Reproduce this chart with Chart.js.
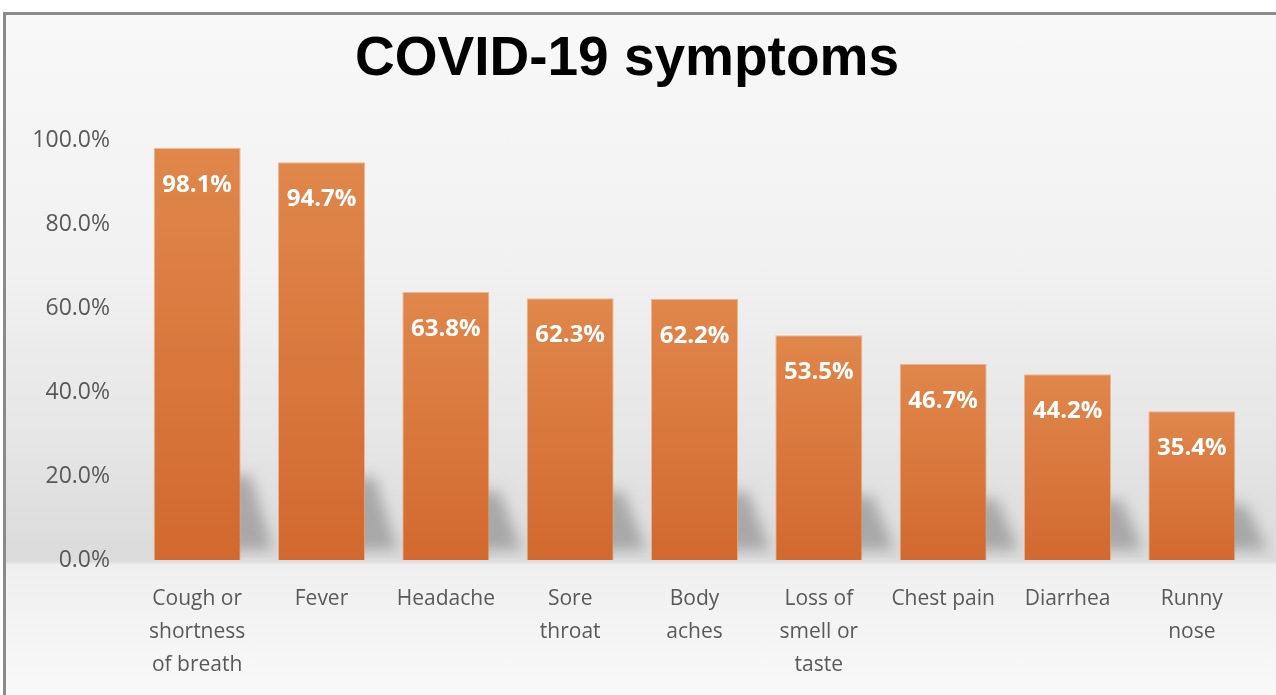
<!DOCTYPE html>
<html>
<head>
<meta charset="utf-8">
<title>COVID-19 symptoms</title>
<script src="https://cdn.jsdelivr.net/npm/chart.js@4/dist/chart.umd.min.js"></script>
<style>
  html, body { margin: 0; padding: 0; background: #fff; overflow: hidden; }
  #frame {
    position: absolute; left: 3px; top: 12px; width: 1300px; height: 700px;
    border-left: 3px solid #8a8a8a; border-top: 3px solid #8a8a8a;
    background: linear-gradient(to bottom,
      #f8f8f8 0px, #f1f1f1 250px, #e6e6e6 420px, #dcdcdc 530px,
      #dcdcdc 546px, #efefef 550px, #f6f6f6 640px, #fafafa 700px);
  }
  #wrap { position: absolute; left: 0; top: 0; width: 1276px; height: 695px; }
</style>
</head>
<body>
<div id="frame"></div>
<div id="wrap"><canvas id="barChart"></canvas></div>
<script>
// Chart data
const symptoms = [
  ["Cough or", "shortness", "of breath"],
  "Fever",
  "Headache",
  ["Sore", "throat"],
  ["Body", "aches"],
  ["Loss of", "smell or", "taste"],
  "Chest pain",
  "Diarrhea",
  ["Runny", "nose"]
];
const percentages = [98.1, 94.7, 63.8, 62.3, 62.2, 53.5, 46.7, 44.2, 35.4];
const yTicks = [0, 20, 40, 60, 80, 100];

// Orange bar fill, a bit lighter at the top of every bar
function barFill(ctx) {
  const chart = ctx.chart;
  if (!chart.chartArea) return "#d97a3e";
  const y = chart.scales.y;
  const top = y.getPixelForValue(ctx.raw);
  const bottom = y.getPixelForValue(0);
  const g = chart.ctx.createLinearGradient(0, top, 0, bottom);
  g.addColorStop(0, "#e0874c");
  g.addColorStop(1, "#d2692f");
  return g;
}

// Soft floor shadow behind the bars
const shadowPlugin = {
  id: "barShadow",
  beforeDatasetsDraw(chart) {
    const ctx = chart.ctx;
    const meta = chart.getDatasetMeta(0);
    const area = chart.chartArea;
    ctx.save();
    ctx.beginPath();
    ctx.rect(area.left, area.top, area.right - area.left + 20, area.bottom - area.top - 2);
    ctx.clip();
    ctx.filter = "blur(7px)";
    ctx.fillStyle = "rgba(145,145,145,0.7)";
    meta.data.forEach((bar, i) => {
      const half = bar.width / 2;
      const l = bar.x - half, r = bar.x + half;
      const base = bar.base;
      const h = 40 + percentages[i] * 0.45;
      ctx.beginPath();
      ctx.moveTo(l + 10, base - h);
      ctx.lineTo(r + 10, base - h);
      ctx.lineTo(r + 32, base - 10);
      ctx.lineTo(l + 30, base - 10);
      ctx.closePath();
      ctx.fill();
    });
    ctx.restore();
  }
};

// White value labels inside the top of each bar
const valueLabelPlugin = {
  id: "valueLabels",
  afterDatasetsDraw(chart) {
    const ctx = chart.ctx;
    const meta = chart.getDatasetMeta(0);
    ctx.save();
    ctx.font = "bold 24px 'Open Sans'";
    ctx.fillStyle = "#ffffff";
    ctx.textAlign = "center";
    ctx.textBaseline = "middle";
    meta.data.forEach((bar, i) => {
      ctx.fillText(percentages[i].toFixed(1) + "%", bar.x, bar.y + 37);
    });
    ctx.restore();
  }
};

const chartContainer = document.getElementById("barChart");

new Chart(chartContainer.getContext("2d"), {
  type: "bar",
  data: {
    labels: symptoms,
    datasets: [{
      label: "Share of patients",
      data: percentages,
      backgroundColor: barFill,
      borderColor: "rgba(235,160,110,0.7)",
      borderWidth: 1,
      borderSkipped: "bottom",
      barPercentage: 0.7,
      categoryPercentage: 1.0
    }]
  },
  options: {
    responsive: true,
    maintainAspectRatio: false,
    animation: false,
    layout: { padding: { left: 0, right: 22, top: 0, bottom: 14 } },
    plugins: {
      legend: { display: false },
      tooltip: { enabled: false },
      title: {
        display: true,
        text: "COVID-19 symptoms",
        color: "#000000",
        font: { family: "'Liberation Sans', Arial, sans-serif", size: 55, weight: "bold" },
        padding: { top: 27, bottom: 47 }
      }
    },
    scales: {
      x: {
        afterFit(scale) { scale.height = 121; },
        grid: { display: false, drawTicks: false },
        border: { display: false },
        ticks: {
          color: "#595959",
          font: { family: "'Open Sans'", size: 21, lineHeight: 1.571 },
          padding: 23,
          maxRotation: 0,
          autoSkip: false
        }
      },
      y: {
        min: 0,
        max: 100,
        afterFit(scale) { scale.width = 135; },
        afterBuildTicks(scale) { scale.ticks = yTicks.map(v => ({ value: v })); },
        grid: { display: false, drawTicks: false },
        border: { display: false },
        ticks: {
          color: "#595959",
          font: { family: "'Open Sans'", size: 23 },
          padding: 25,
          callback: (value) => value.toFixed(1) + "%"
        }
      }
    }
  },
  plugins: [shadowPlugin, valueLabelPlugin]
});
</script>
</body>
</html>
